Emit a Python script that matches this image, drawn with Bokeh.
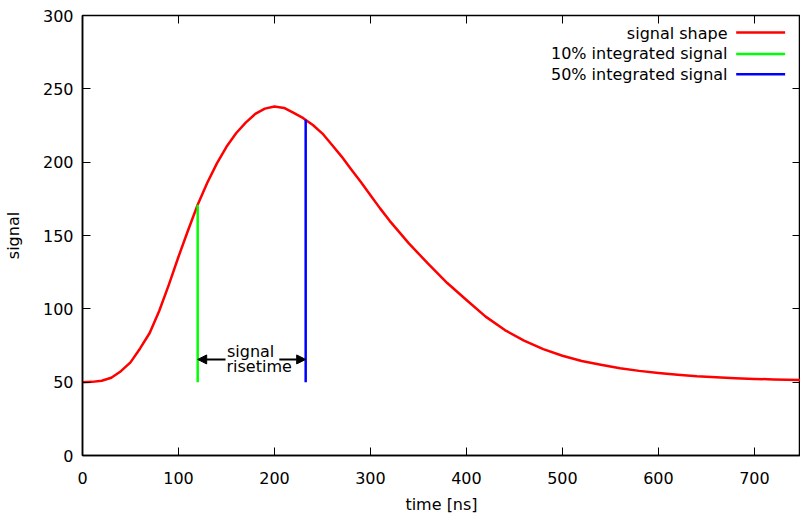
from bokeh.plotting import figure
from bokeh.models import Range1d, FixedTicker, LinearAxis, Label, Arrow, NormalHead
from bokeh.embed import file_html
from bokeh.resources import INLINE

# ---- data ----
time_ns = [0, 10, 20, 30, 40, 50, 60, 70, 80, 90, 100, 110, 120, 130, 140, 150, 160, 170,
           180, 190, 200, 210, 220, 230, 240, 250, 260, 270, 280, 290, 300, 310, 320, 340,
           360, 380, 400, 420, 440, 460, 480, 500, 520, 540, 560, 580, 600, 620, 640, 660,
           680, 700, 720, 748]
signal_shape = [50, 50.2, 51, 53, 57.5, 63.5, 73, 83.5, 98.7, 116.5, 135.5, 153.6, 171, 186,
                199.2, 210.5, 219.7, 227, 232.9, 236.5, 238, 237, 233.6, 230, 225.3, 219.5,
                211.7, 203.8, 195, 186.5, 177.5, 168.5, 160, 144.6, 130.8, 117.6, 106, 94.7,
                85.5, 78.3, 72.5, 68, 64.4, 61.9, 59.5, 57.7, 56.3, 55.1, 54, 53.3, 52.7,
                52.2, 51.9, 51.5]
baseline = 50
t10 = [120]            # 10% integrated signal time
s10 = [171]
t50 = [232.5]          # 50% integrated signal time
s50 = [229]
x_ticks = [0, 100, 200, 300, 400, 500, 600, 700]
y_ticks = [0, 50, 100, 150, 200, 250, 300]
legend_labels = ["signal shape", "10% integrated signal", "50% integrated signal"]
legend_colors = ["#ff0000", "#00ff00", "#0000ff"]
x_label = "time [ns]"
y_label = "signal"

FONT = "DejaVu Sans"

p = figure(width=800, height=517, x_range=Range1d(0, 748), y_range=Range1d(0, 300),
           output_backend="svg", toolbar_location=None,
           min_border_left=82, min_border_right=0, min_border_top=15, min_border_bottom=62)
p.grid.visible = False
p.outline_line_color = "black"
p.outline_line_width = 1.5
p.outline_line_alpha = 1.0
p.background_fill_color = "white"
p.border_fill_color = "white"

def style_axis(ax, ticks, show_labels=True):
    ax.ticker = FixedTicker(ticks=ticks)
    ax.major_tick_in = 8
    ax.major_tick_out = 0
    ax.minor_tick_line_color = None
    ax.major_tick_line_color = "black"
    ax.major_tick_line_width = 1
    ax.axis_line_color = "black"
    ax.axis_line_width = 1.5
    ax.major_label_text_font = FONT
    ax.major_label_text_color = "black"
    ax.axis_label_text_font = FONT
    ax.axis_label_text_font_size = "16px"
    ax.axis_label_text_font_style = "normal"
    ax.axis_label_text_color = "black"
    if show_labels:
        ax.major_label_text_font_size = "16px"
    else:
        ax.major_label_overrides = {t: "" for t in ticks}
        ax.major_label_text_font_size = "0px"
        ax.major_label_standoff = 0
        ax.axis_line_color = None

xa = p.xaxis[0]
style_axis(xa, x_ticks)
xa.major_label_standoff = 16
xa.axis_label = x_label
xa.axis_label_standoff = 8

ya = p.yaxis[0]
style_axis(ya, y_ticks)
ya.major_label_standoff = 9
ya.axis_label = y_label
ya.axis_label_standoff = 17

top = LinearAxis()
style_axis(top, x_ticks, show_labels=False)
p.add_layout(top, "above")
right = LinearAxis()
style_axis(right, y_ticks, show_labels=False)
p.add_layout(right, "right")

# signal curve and markers
p.line(time_ns, signal_shape, line_color=legend_colors[0], line_width=2.5,
       line_join="round")
p.segment(x0=t10, y0=[baseline], x1=t10, y1=s10, line_color=legend_colors[1], line_width=2.5)
p.segment(x0=t50, y0=[baseline], x1=t50, y1=s50, line_color=legend_colors[2], line_width=2.5)

# risetime annotation
arrow_y = 65.5
p.add_layout(Arrow(end=NormalHead(size=9, fill_color="black", line_color="black"),
                   x_start=149, y_start=arrow_y, x_end=t10[0], y_end=arrow_y,
                   line_color="black", line_width=2))
p.add_layout(Arrow(end=NormalHead(size=9, fill_color="black", line_color="black"),
                   x_start=205, y_start=arrow_y, x_end=t50[0], y_end=arrow_y,
                   line_color="black", line_width=2))
p.add_layout(Label(x=150.5, y=71.0, text="signal", text_align="left",
                   text_baseline="alphabetic", text_font=FONT, text_font_size="16px",
                   text_color="black"))
p.add_layout(Label(x=150, y=60.6, text="risetime", text_align="left",
                   text_baseline="alphabetic", text_font=FONT, text_font_size="16px",
                   text_color="black"))

# legend (gnuplot style: text right-aligned, sample to the right)
legend_text_y = [288.0, 274.0, 260.0]
legend_line_y = [288.4, 273.8, 260.0]
for lab, col, ty, ly in zip(legend_labels, legend_colors, legend_text_y, legend_line_y):
    p.add_layout(Label(x=672, y=ty, text=lab, text_align="right", text_baseline="alphabetic",
                       text_font=FONT, text_font_size="16px", text_color="black"))
    p.add_layout(Arrow(end=None, x_start=681, y_start=ly, x_end=732, y_end=ly,
                       line_color=col, line_width=2.5))

open("out.html", "w").write(file_html(p, INLINE))
